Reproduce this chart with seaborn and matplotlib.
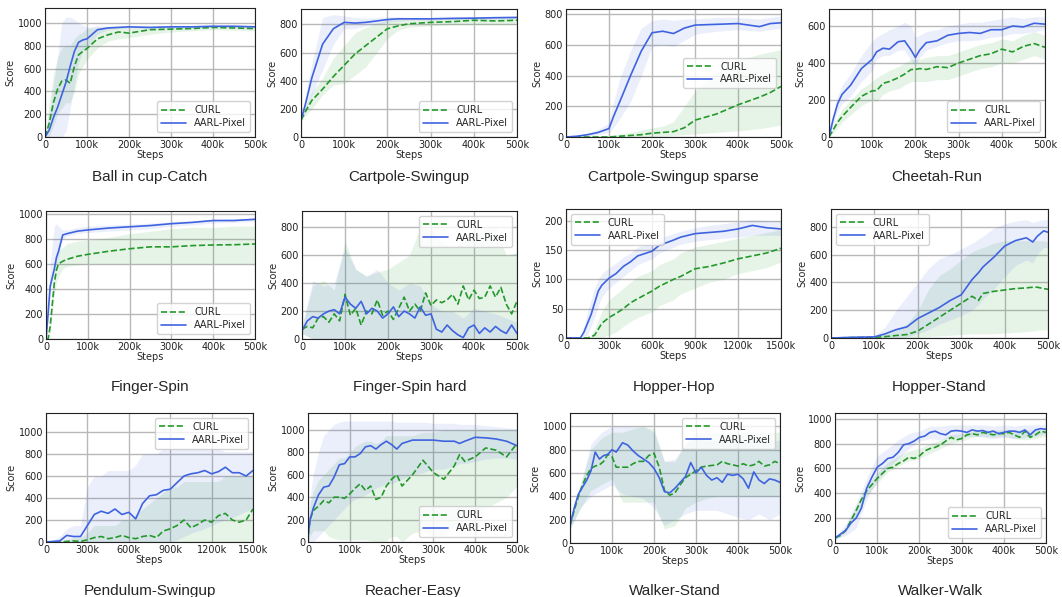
import numpy as np
import matplotlib
matplotlib.use('Agg')
import matplotlib.pyplot as plt
import seaborn as sns

# ---- data (steps in thousands) ----
# Ball in cup-Catch
ball_x = [0, 10, 20, 30, 40, 50, 60, 70, 80, 90, 100, 125, 150, 175, 200, 250, 300, 350, 400, 450, 500]
ball_curl = [0, 120, 300, 420, 490, 500, 470, 620, 720, 750, 775, 860, 895, 920, 910, 940, 945, 950, 960, 955, 950]
ball_curl_lo = [0, 0, 100, 200, 250, 300, 300, 400, 550, 620, 680, 780, 840, 860, 870, 900, 920, 930, 940, 935, 930]
ball_curl_hi = [0, 300, 550, 700, 780, 800, 800, 860, 900, 920, 950, 960, 970, 970, 960, 970, 965, 970, 975, 970, 965]
ball_aarl = [0, 60, 170, 260, 370, 480, 620, 750, 830, 850, 860, 940, 955, 960, 965, 960, 965, 965, 970, 970, 965]
ball_aarl_lo = [0, 0, 0, 0, 0, 50, 250, 450, 650, 750, 780, 900, 940, 950, 955, 950, 955, 955, 960, 960, 955]
ball_aarl_hi = [0, 200, 450, 700, 1000, 1050, 1050, 1030, 1000, 980, 960, 975, 970, 970, 975, 970, 975, 975, 980, 980, 975]

# Cartpole-Swingup
cps_x = [0, 10, 25, 50, 75, 100, 125, 150, 175, 200, 225, 250, 300, 350, 400, 450, 500]
cps_curl = [120, 180, 260, 340, 430, 510, 590, 650, 710, 770, 790, 805, 815, 820, 830, 825, 830]
cps_curl_lo = [110, 150, 200, 300, 370, 380, 440, 500, 600, 700, 760, 780, 790, 800, 800, 800, 800]
cps_curl_hi = [130, 210, 320, 420, 560, 650, 740, 780, 810, 830, 835, 835, 835, 845, 850, 845, 845]
cps_aarl = [120, 230, 420, 660, 770, 815, 810, 815, 825, 835, 840, 840, 840, 843, 845, 848, 850]
cps_aarl_lo = [110, 180, 300, 480, 660, 770, 770, 790, 800, 815, 825, 830, 830, 835, 835, 838, 840]
cps_aarl_hi = [130, 290, 520, 850, 870, 860, 850, 845, 850, 855, 855, 850, 850, 855, 855, 858, 860]

# Cartpole-Swingup sparse
cpsp_x = [0, 25, 50, 75, 100, 110, 125, 150, 175, 200, 225, 250, 275, 300, 350, 400, 450, 475, 500]
cpsp_curl = [0, 0, 0, 0, 0, 2, 5, 10, 15, 25, 30, 35, 60, 110, 150, 210, 260, 290, 330]
cpsp_curl_lo = [0, 0, 0, 0, 0, 0, 0, 0, 0, 0, 5, 10, 15, 20, 30, 40, 55, 65, 80]
cpsp_curl_hi = [0, 0, 0, 5, 10, 12, 20, 30, 45, 60, 70, 100, 200, 300, 420, 500, 540, 555, 570]
cpsp_aarl = [0, 5, 15, 30, 55, 130, 230, 400, 560, 680, 690, 675, 710, 730, 735, 740, 720, 740, 745]
cpsp_aarl_lo = [0, 0, 5, 15, 30, 60, 120, 230, 400, 590, 600, 590, 630, 670, 690, 700, 690, 700, 710]
cpsp_aarl_hi = [0, 10, 25, 50, 90, 220, 380, 560, 710, 760, 770, 760, 770, 770, 780, 780, 770, 780, 790]

# Cheetah-Run
chr_x = [0, 10, 20, 30, 50, 75, 100, 110, 125, 140, 160, 175, 190, 200, 210, 225, 250, 275, 300, 325,
         350, 375, 400, 425, 450, 475, 500]
chr_curl = [0, 40, 80, 110, 160, 220, 250, 250, 290, 300, 320, 340, 365, 365, 370, 365, 380, 375, 400, 420,
            440, 450, 475, 460, 490, 505, 485]
chr_curl_lo = [0, 20, 50, 80, 120, 170, 200, 190, 230, 250, 260, 280, 300, 300, 300, 300, 310, 310, 330, 350,
               370, 380, 400, 400, 420, 440, 420]
chr_curl_hi = [0, 60, 110, 150, 200, 260, 300, 320, 340, 360, 380, 400, 420, 420, 420, 430, 440, 440, 460, 480,
               500, 510, 530, 520, 550, 570, 550]
chr_aarl = [0, 100, 180, 230, 280, 370, 420, 460, 480, 475, 515, 520, 470, 430, 470, 510, 520, 550, 560, 565,
            560, 580, 580, 600, 595, 615, 610]
chr_aarl_lo = [0, 70, 140, 180, 220, 300, 360, 420, 440, 440, 470, 470, 410, 390, 430, 470, 490, 510, 520, 520,
               525, 540, 545, 560, 560, 570, 580]
chr_aarl_hi = [0, 130, 220, 280, 340, 440, 520, 540, 560, 580, 600, 620, 600, 540, 550, 570, 580, 600, 610, 620,
               620, 630, 640, 650, 640, 650, 650]

# Finger-Spin
fs_x = [0, 5, 10, 20, 25, 30, 40, 50, 75, 100, 150, 200, 250, 300, 350, 400, 450, 500]
fs_curl = [0, 0, 100, 450, 550, 600, 620, 635, 660, 675, 700, 720, 735, 735, 745, 750, 752, 758]
fs_curl_lo = [0, 0, 50, 350, 450, 500, 560, 580, 590, 600, 600, 600, 600, 600, 600, 600, 600, 600]
fs_curl_hi = [0, 0, 150, 550, 650, 700, 730, 760, 780, 790, 810, 840, 860, 880, 890, 890, 900, 900]
fs_aarl = [0, 200, 420, 560, 650, 700, 830, 840, 860, 870, 885, 895, 905, 920, 930, 945, 945, 955]
fs_aarl_lo = [0, 150, 380, 520, 600, 650, 800, 820, 840, 850, 860, 870, 880, 900, 910, 925, 930, 940]
fs_aarl_hi = [0, 250, 600, 900, 920, 900, 870, 870, 890, 900, 910, 915, 925, 935, 945, 955, 958, 962]

# Finger-Spin hard
fsh_x = [0, 12.5, 25, 37.5, 50, 62.5, 75, 87.5, 100, 112.5, 125, 137.5, 150, 162.5, 175, 187.5, 200,
         212.5, 225, 237.5, 250, 262.5, 275, 287.5, 300, 312.5, 325, 337.5, 350, 362.5, 375, 387.5, 400,
         412.5, 425, 437.5, 450, 462.5, 475, 487.5, 500]
fsh_curl = [70, 90, 80, 150, 160, 120, 180, 130, 320, 170, 220, 100, 200, 180, 280, 170, 200,
            140, 220, 300, 200, 250, 200, 330, 240, 280, 260, 280, 320, 250, 380, 280, 350,
            290, 300, 380, 300, 370, 250, 180, 270]
fsh_aarl = [60, 130, 160, 150, 180, 200, 210, 180, 300, 250, 220, 270, 180, 220, 200, 150, 180,
            230, 160, 200, 180, 150, 230, 170, 180, 70, 50, 100, 60, 30, 10, 80, 100,
            40, 80, 50, 90, 60, 40, 100, 40]
fsh_bx = [0, 25, 50, 75, 100, 125, 150, 175, 200, 225, 250, 275, 300, 325, 350, 375, 400, 425, 450, 475, 500]
fsh_curl_lo = [40, 0, 0, 0, 0, 0, 0, 0, 0, 0, 0, 0, 0, 0, 0, 0, 0, 0, 0, 0, 0]
fsh_curl_hi = [100, 380, 420, 350, 700, 500, 450, 480, 500, 550, 600, 800, 780, 700, 650, 700, 720, 780, 800, 600, 620]
fsh_aarl_lo = [40, 0, 0, 0, 0, 0, 0, 0, 0, 0, 0, 0, 0, 0, 0, 0, 0, 0, 0, 0, 0]
fsh_aarl_hi = [80, 420, 380, 400, 650, 500, 450, 500, 400, 350, 400, 380, 250, 200, 200, 150, 220, 200, 180, 150, 120]

# Hopper-Hop
hh_x = [0, 100, 125, 150, 175, 200, 225, 250, 300, 350, 400, 450, 500, 600, 650, 750, 800, 900, 1000,
        1100, 1200, 1300, 1400, 1500]
hh_curl = [0, 0, 0, 0, 2, 5, 15, 25, 35, 42, 50, 60, 67, 80, 88, 100, 105, 118, 122, 128, 135, 140, 145, 153]
hh_curl_lo = [0, 0, 0, 0, 0, 0, 0, 0, 5, 10, 20, 28, 35, 45, 55, 65, 75, 85, 95, 100, 110, 115, 120, 130]
hh_curl_hi = [0, 0, 0, 0, 5, 15, 30, 45, 65, 75, 85, 95, 105, 115, 125, 135, 145, 155, 160, 165, 170, 175, 180, 185]
hh_aarl = [0, 0, 10, 25, 40, 60, 80, 90, 102, 110, 122, 130, 140, 148, 158, 167, 172, 178, 180, 182, 186, 192, 188, 186]
hh_aarl_lo = [0, 0, 0, 5, 20, 35, 55, 70, 85, 95, 105, 115, 125, 135, 145, 155, 160, 165, 168, 170, 172, 175, 175, 175]
hh_aarl_hi = [0, 0, 20, 45, 65, 85, 100, 110, 120, 128, 138, 145, 155, 162, 170, 178, 182, 188, 192, 195, 198, 202, 200, 200]

# Hopper-Stand
hs_x = [0, 50, 100, 125, 150, 175, 200, 225, 250, 275, 300, 325, 340, 350, 375, 400, 425, 450, 465, 475, 490, 500]
hs_curl = [0, 3, 5, 10, 18, 25, 50, 100, 150, 200, 250, 300, 270, 320, 335, 345, 355, 360, 365, 365, 355, 350]
hs_curl_lo = [0, 0, 0, 0, 0, 0, 5, 10, 15, 20, 25, 30, 30, 30, 30, 35, 40, 45, 50, 55, 60, 60]
hs_curl_hi = [0, 5, 10, 30, 60, 100, 200, 350, 450, 500, 560, 620, 640, 650, 680, 700, 700, 700, 700, 700, 700, 690]
hs_aarl = [0, 5, 8, 30, 60, 80, 140, 180, 220, 270, 310, 420, 470, 510, 580, 660, 700, 720, 690, 730, 770, 760]
hs_aarl_lo = [0, 0, 0, 0, 0, 10, 30, 60, 100, 130, 160, 200, 240, 280, 350, 440, 520, 560, 540, 600, 650, 650]
hs_aarl_hi = [0, 10, 15, 80, 200, 300, 400, 500, 570, 600, 640, 680, 710, 730, 790, 820, 840, 850, 830, 840, 850, 850]

# Pendulum-Swingup
ps_x = [0, 50, 100, 150, 200, 250, 300, 350, 400, 450, 500, 550, 600, 650, 700, 750, 800, 850, 900, 950,
        1000, 1050, 1100, 1150, 1200, 1250, 1300, 1350, 1400, 1450, 1500]
ps_curl = [0, 0, 0, 5, 10, 5, 20, 40, 50, 30, 40, 60, 40, 30, 50, 60, 40, 100, 120, 150,
           200, 130, 160, 200, 180, 240, 260, 200, 180, 200, 300]
ps_curl_lo = [0] * 31
ps_curl_hi = [0, 0, 0, 20, 40, 40, 80, 150, 150, 150, 150, 200, 200, 250, 300, 350, 400, 450, 500, 500,
              550, 550, 550, 550, 550, 550, 600, 600, 600, 600, 600]
ps_aarl = [0, 5, 10, 60, 50, 50, 150, 250, 280, 260, 300, 250, 270, 210, 350, 420, 430, 470, 480, 540,
           600, 620, 630, 650, 620, 640, 680, 630, 630, 600, 650]
ps_aarl_lo = [0, 0, 0, 0, 0, 0, 0, 0, 0, 0, 0, 0, 0, 0, 0, 0, 0, 0, 0, 20,
              50, 80, 100, 120, 150, 180, 200, 220, 250, 280, 300]
ps_aarl_hi = [0, 20, 50, 120, 150, 150, 500, 600, 600, 650, 650, 650, 650, 700, 800, 800, 800, 850, 850, 850,
              850, 850, 850, 850, 850, 850, 820, 820, 820, 820, 820]

# Reacher-Easy
re_x = [0, 5, 12.5, 25, 37.5, 50, 62.5, 75, 87.5, 100, 112.5, 125, 137.5, 150, 162.5, 175, 187.5, 200,
        212.5, 225, 250, 275, 300, 325, 350, 362.5, 375, 400, 425, 450, 475, 500]
re_curl = [50, 200, 280, 320, 370, 350, 400, 400, 390, 430, 480, 520, 460, 500, 380, 400, 500, 560,
           600, 500, 600, 730, 620, 560, 680, 780, 720, 760, 840, 820, 760, 880]
re_curl_lo = [0, 50, 100, 100, 100, 50, 30, 20, 20, 20, 20, 20, 20, 10, 0, 0, 10, 50,
              50, 0, 80, 100, 50, 50, 150, 200, 200, 250, 300, 350, 400, 500]
re_curl_hi = [100, 350, 450, 550, 600, 650, 700, 750, 750, 800, 850, 880, 900, 900, 880, 900, 950, 950,
              950, 950, 950, 980, 980, 1000, 1000, 1000, 1000, 1000, 1000, 1000, 1000, 1000]
re_aarl = [50, 200, 300, 420, 490, 500, 580, 690, 700, 760, 760, 790, 850, 860, 830, 870, 900, 870,
           830, 880, 910, 910, 910, 900, 900, 880, 900, 935, 930, 920, 900, 860]
re_aarl_lo = [0, 0, 0, 50, 100, 150, 200, 250, 300, 350, 380, 400, 420, 450, 480, 500, 520, 520,
              540, 560, 600, 620, 650, 650, 680, 700, 700, 720, 740, 750, 750, 740]
re_aarl_hi = [100, 400, 600, 800, 950, 1000, 1050, 1070, 1080, 1080, 1080, 1080, 1080, 1080, 1080, 1080, 1080, 1080,
              1070, 1070, 1070, 1070, 1060, 1060, 1060, 1050, 1050, 1050, 1040, 1030, 1020, 1010]

# Walker-Stand
ws_x = [0, 10, 20, 30, 40, 50, 60, 70, 80, 90, 100, 110,
        125, 137.5, 150, 162.5, 175, 187.5, 200, 212.5, 225, 237.5, 250, 262.5, 275, 287.5, 300, 312.5,
        325, 337.5, 350, 362.5, 375, 387.5, 400, 412.5, 425, 437.5, 450, 462.5, 475, 487.5, 500]
ws_curl = [150, 280, 400, 500, 580, 640, 660, 670, 700, 760, 740, 650,
           650, 650, 680, 700, 700, 750, 770, 650, 450, 410, 430, 500, 560, 590, 620, 650,
           660, 665, 670, 700, 680, 670, 660, 680, 660, 670, 700, 660, 670, 700, 680]
ws_aarl = [150, 300, 420, 480, 540, 620, 780, 720, 750, 760, 800, 780,
           860, 840, 790, 750, 720, 690, 640, 560, 440, 430, 470, 520, 570, 690, 600, 650,
           580, 540, 560, 520, 590, 580, 590, 550, 470, 610, 540, 510, 550, 540, 520]
ws_bx = [0, 25, 50, 75, 100, 125, 150, 175, 200, 225, 250, 275, 300, 325, 350, 375, 400, 425, 450, 475, 500]
ws_curl_lo = [120, 300, 450, 500, 550, 350, 350, 350, 350, 120, 150, 300, 350, 380, 400, 400, 400, 400, 400, 400, 400]
ws_curl_hi = [180, 500, 800, 900, 950, 950, 980, 1000, 980, 700, 700, 850, 950, 950, 950, 950, 950, 950, 950, 950, 950]
ws_aarl_lo = [120, 300, 400, 450, 500, 420, 400, 380, 300, 150, 200, 250, 280, 280, 280, 250, 220, 200, 250, 200, 250]
ws_aarl_hi = [180, 500, 850, 950, 1000, 1000, 1000, 1000, 950, 700, 720, 850, 900, 880, 880, 880, 880, 900, 880, 880, 880]

# Walker-Walk
ww_x = fsh_x
ww_curl = [40, 60, 100, 180, 260, 350, 420, 470, 520, 560, 600, 610, 640, 660, 690, 680, 700,
           740, 760, 770, 790, 820, 850, 830, 840, 870, 880, 870, 890, 880, 870, 880, 880,
           890, 870, 850, 900, 850, 870, 900, 890]
ww_aarl = [40, 70, 100, 160, 200, 280, 440, 530, 610, 640, 680, 690, 730, 790, 800, 820, 850,
           860, 890, 900, 880, 870, 900, 905, 900, 890, 910, 900, 905, 890, 900, 880, 890,
           900, 900, 890, 910, 870, 910, 920, 915]
ww_bx = ws_bx
ww_curl_lo = [30, 80, 220, 380, 480, 570, 620, 660, 680, 720, 760, 800, 820, 850, 860, 850, 860, 840, 830, 840, 860]
ww_curl_hi = [50, 120, 300, 460, 560, 650, 700, 740, 760, 800, 830, 870, 880, 900, 910, 910, 910, 910, 910, 910, 910]
ww_aarl_lo = [30, 60, 120, 350, 500, 600, 680, 760, 820, 840, 830, 850, 850, 860, 850, 840, 850, 840, 850, 860, 880]
ww_aarl_hi = [50, 150, 320, 520, 700, 760, 830, 880, 900, 940, 940, 950, 950, 950, 950, 940, 950, 940, 950, 950, 950]

xt_500 = [0, 100, 200, 300, 400, 500]
xl_500 = ['0', '100k', '200k', '300k', '400k', '500k']
xt_1500 = [0, 300, 600, 900, 1200, 1500]
xl_1500 = ['0', '300k', '600k', '900k', '1200k', '1500k']

GREEN = '#23992a'
BLUE = '#3f63e0'

sns.set_style('whitegrid', {'axes.edgecolor': '#222222', 'grid.color': '#b8b8b8'})
plt.rcParams['font.family'] = ['DejaVu Sans']

fig = plt.figure(figsize=(10.62, 5.97), dpi=100)
W, H = 1062.0, 597.0


def make_ax(l, t, r, b):
    return fig.add_axes([l / W, 1 - b / H, (r - l) / W, (b - t) / H])


def panel(rect, title, title_y, x, curl, curl_lo, curl_hi, aarl, aarl_lo, aarl_hi,
          ymax, yticks, loc, bx=None, long_x=False):
    ax = make_ax(*rect)
    if bx is None:
        bx = x
    ax.fill_between(bx, curl_lo, curl_hi, color=GREEN, alpha=0.11, linewidth=0)
    ax.fill_between(bx, aarl_lo, aarl_hi, color=BLUE, alpha=0.1, linewidth=0)
    sns.lineplot(x=x, y=curl, ax=ax, color=GREEN, linestyle='--', linewidth=1.2, label='CURL')
    sns.lineplot(x=x, y=aarl, ax=ax, color=BLUE, linewidth=1.2, label='AARL-Pixel')
    if long_x:
        ax.set_xlim(0, 1500)
        ax.set_xticks(xt_1500)
        ax.set_xticklabels(xl_1500)
    else:
        ax.set_xlim(0, 500)
        ax.set_xticks(xt_500)
        ax.set_xticklabels(xl_500)
    ax.set_ylim(0, ymax)
    ax.set_yticks(yticks)
    ax.tick_params(labelsize=7, pad=2, length=0, labelcolor='#222222')
    ax.set_xlabel('Steps', fontsize=7, labelpad=0)
    ax.set_ylabel('Score', fontsize=7, labelpad=2)
    ax.grid(True, linewidth=1.0)
    for s in ax.spines.values():
        s.set_linewidth(0.8)
    ax.legend(loc=loc, fontsize=7, handlelength=2.6, borderpad=0.4, labelspacing=0.3,
              frameon=True, fancybox=True, edgecolor='#c8c8c8')
    cx = (rect[0] + rect[2]) / 2.0 / W
    fig.text(cx, 1 - title_y / H, title, ha='center', va='center', fontsize=11,
             family='Liberation Sans')
    return ax


y1000 = [0, 200, 400, 600, 800, 1000]
y800 = [0, 200, 400, 600, 800]

panel((45, 8, 255, 137), 'Ball in cup-Catch', 177, ball_x, ball_curl, ball_curl_lo, ball_curl_hi,
      ball_aarl, ball_aarl_lo, ball_aarl_hi, 1130, y1000, 'lower right')
panel((301, 9, 517, 137), 'Cartpole-Swingup', 177, cps_x, cps_curl, cps_curl_lo, cps_curl_hi,
      cps_aarl, cps_aarl_lo, cps_aarl_hi, 910, y800, 'lower right')
panel((566, 9, 781, 137), 'Cartpole-Swingup sparse', 177, cpsp_x, cpsp_curl, cpsp_curl_lo, cpsp_curl_hi,
      cpsp_aarl, cpsp_aarl_lo, cpsp_aarl_hi, 835, y800, 'center right')
panel((829, 9, 1045, 137), 'Cheetah-Run', 177, chr_x, chr_curl, chr_curl_lo, chr_curl_hi,
      chr_aarl, chr_aarl_lo, chr_aarl_hi, 692, [0, 200, 400, 600], 'lower right')

panel((46, 211, 255, 339), 'Finger-Spin', 387, fs_x, fs_curl, fs_curl_lo, fs_curl_hi,
      fs_aarl, fs_aarl_lo, fs_aarl_hi, 1021, y1000, 'lower right')
panel((302, 211, 517, 339), 'Finger-Spin hard', 387, fsh_x, fsh_curl, fsh_curl_lo, fsh_curl_hi,
      fsh_aarl, fsh_aarl_lo, fsh_aarl_hi, 917, y800, 'upper right', bx=fsh_bx)
panel((566, 209, 781, 338), 'Hopper-Hop', 387, hh_x, hh_curl, hh_curl_lo, hh_curl_hi,
      hh_aarl, hh_aarl_lo, hh_aarl_hi, 220, [0, 50, 100, 150, 200], 'upper left', long_x=True)
panel((831, 209, 1048, 338), 'Hopper-Stand', 387, hs_x, hs_curl, hs_curl_lo, hs_curl_hi,
      hs_aarl, hs_aarl_lo, hs_aarl_hi, 927, y800, 'upper left')

panel((46, 413, 253, 542), 'Pendulum-Swingup', 591, ps_x, ps_curl, ps_curl_lo, ps_curl_hi,
      ps_aarl, ps_aarl_lo, ps_aarl_hi, 1173, y1000, 'upper right', long_x=True)
panel((308, 413, 517, 542), 'Reacher-Easy', 591, re_x, re_curl, re_curl_lo, re_curl_hi,
      re_aarl, re_aarl_lo, re_aarl_hi, 1152, y1000, 'lower right')
panel((570, 413, 780, 543), 'Walker-Stand', 591, ws_x, ws_curl, ws_curl_lo, ws_curl_hi,
      ws_aarl, ws_aarl_lo, ws_aarl_hi, 1115, y1000, 'upper right', bx=ws_bx)
panel((835, 413, 1046, 543), 'Walker-Walk', 591, ww_x, ww_curl, ww_curl_lo, ww_curl_hi,
      ww_aarl, ww_aarl_lo, ww_aarl_hi, 1046, y1000, 'lower right', bx=ww_bx)

fig.savefig('out.png', dpi=100)
